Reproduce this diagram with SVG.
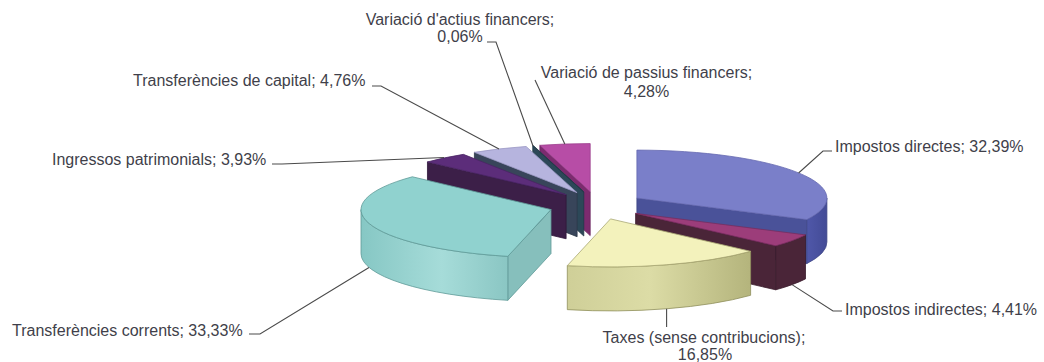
<svg xmlns="http://www.w3.org/2000/svg" width="1044" height="362" viewBox="0 0 1044 362">
<style>
.lbl{font-family:"Liberation Sans",Arial,sans-serif;font-size:16px;fill:#3f3f4a}
.mid{text-anchor:middle}
.lead{fill:none;stroke:#4a4a4a;stroke-width:1.1}
.e{stroke-width:0.8;stroke-linejoin:round}
</style>
<defs>
<linearGradient id="gTeal" x1="361" y1="0" x2="508" y2="0" gradientUnits="userSpaceOnUse">
<stop offset="0" stop-color="#86c7c4"/><stop offset="0.55" stop-color="#a6dcd9"/><stop offset="1" stop-color="#8ac6c3"/>
</linearGradient>
<linearGradient id="gTax" x1="567" y1="0" x2="751" y2="0" gradientUnits="userSpaceOnUse">
<stop offset="0" stop-color="#cfcf98"/><stop offset="0.45" stop-color="#dcdca6"/><stop offset="1" stop-color="#b4b47c"/>
</linearGradient>
<linearGradient id="gBlue" x1="806" y1="0" x2="827" y2="0" gradientUnits="userSpaceOnUse">
<stop offset="0" stop-color="#5058aa"/><stop offset="1" stop-color="#434b96"/>
</linearGradient>
</defs>
<rect width="1044" height="362" fill="#ffffff"/>

<g id="slice-passius">
<path class="e" fill="#7c2b6f" stroke="#6a245f" d="M590.2,191.6 L539.87,145.31 L539.87,189.31 L590.2,235.6 Z"/>
<path class="e" fill="#b74da6" stroke="#9c3f8d" d="M590.2,191.6 L539.87,145.31 A190,48 0 0 1 590.2,143.6 Z"/>
</g>
<g id="slice-actius">
<path class="e" fill="#2c4858" stroke="#223a48" d="M583.8,192 L532.77,145.76 L532.77,189.76 L583.8,236 Z"/>
<path class="e" fill="#3b5a6a" stroke="#223a48" d="M583.8,192 L532.77,145.76 L533.47,145.71 Z"/>
</g>
<g id="slice-capital">
<path class="e" fill="#38455a" stroke="#2c3848" d="M577.1,192.7 L474.4,152.32 L474.4,196.32 L577.1,236.7 Z"/>
<path class="e" fill="#b6b4de" stroke="#9a98c4" d="M577.1,192.7 L474.4,152.32 A190,48 0 0 1 526.07,146.46 Z"/>
</g>
<g id="slice-patrimonials">
<path class="e" fill="#3c1f48" stroke="#2e1638" d="M566.1,194.75 L427.46,161.93 L427.46,205.93 L566.1,238.75 Z"/>
<path class="e" fill="#5c2d7a" stroke="#4a2464" d="M566.1,194.75 L427.46,161.93 A190,48 0 0 1 463.4,154.37 Z"/>
</g>
<g id="slice-directes">
<path class="e" fill="#4a5299" stroke="#3d4585" d="M636.9,198.1 L806.8,219.59 L806.8,263.59 L636.9,242.1 Z"/>
<path class="e" fill="url(#gBlue)" stroke="#3d4585" d="M826.9,198.1 A190,48 0 0 1 806.8,219.59 L806.8,263.59 A190,48 0 0 0 826.9,242.1 Z"/>
<path class="e" fill="#7a7fc9" stroke="#6468b0" d="M636.9,198.1 L636.9,150.1 A190,48 0 0 1 806.8,219.59 Z"/>
</g>
<g id="slice-corrents">
<path class="e" fill="#86bfbc" stroke="#5f9a98" d="M551,209.6 L507.81,256.34 L507.81,300.34 L551,253.6 Z"/>
<path class="e" fill="url(#gTeal)" stroke="#5f9a98" d="M507.81,256.34 A190,48 0 0 1 361,209.6 L361,253.6 A190,48 0 0 0 507.81,300.34 Z"/>
<path class="e" fill="#90d2cf" stroke="#5f9a98" d="M551,209.6 L507.81,256.34 A190,48 0 0 1 412.36,176.78 Z"/>
</g>
<g id="slice-indirectes">
<path class="e" fill="#4a2538" stroke="#3a1c2c" d="M635.6,213.4 L775.72,245.82 L775.72,289.82 L635.6,257.4 Z"/>
<path class="e" fill="#4a2538" stroke="#3a1c2c" d="M805.5,234.89 A190,48 0 0 1 775.72,245.82 L775.72,289.82 A190,48 0 0 0 805.5,278.89 Z"/>
<path class="e" fill="#9c3d7a" stroke="#7a2d5e" d="M635.6,213.4 L805.5,234.89 A190,48 0 0 1 775.72,245.82 Z"/>
</g>
<g id="slice-taxes">
<path class="e" fill="url(#gTax)" stroke="#8f8f5c" d="M750.62,251.32 A190,48 0 0 1 567.31,265.64 L567.31,309.64 A190,48 0 0 0 750.62,295.32 Z"/>
<path class="e" fill="#f3f2bc" stroke="#a9a874" d="M610.5,218.9 L750.62,251.32 A190,48 0 0 1 567.31,265.64 Z"/>
</g>

<g id="connectors">
<polyline class="lead" points="487,42 496,42 533,146"/>
<polyline class="lead" points="535,80 564.8,144"/>
<polyline class="lead" points="372,86 381,86 499,149"/>
<polyline class="lead" points="272,164 282,164 444,157.5"/>
<polyline class="lead" points="249,334 260,334 369,267.5"/>
<polyline class="lead" points="666.6,308.8 666.6,327"/>
<polyline class="lead" points="792,284.6 833,311 842,311"/>
<polyline class="lead" points="798.6,173 823,151 832,151"/>
</g>

<g id="labels">
<g id="label-actius"><text class="lbl mid" x="460" y="25">Variació d'actius financers;</text><text class="lbl mid" x="460" y="42">0,06%</text></g>
<g id="label-passius"><text class="lbl mid" x="646.5" y="78">Variació de passius financers;</text><text class="lbl mid" x="646.5" y="97">4,28%</text></g>
<g id="label-capital"><text class="lbl" x="133" y="86">Transferències de capital; 4,76%</text></g>
<g id="label-patrimonials"><text class="lbl" x="52" y="165">Ingressos patrimonials; 3,93%</text></g>
<g id="label-corrents"><text class="lbl" x="12" y="336">Transferències corrents; 33,33%</text></g>
<g id="label-taxes"><text class="lbl mid" x="704" y="343">Taxes (sense contribucions);</text><text class="lbl mid" x="705" y="360">16,85%</text></g>
<g id="label-indirectes"><text class="lbl" x="845" y="315">Impostos indirectes; 4,41%</text></g>
<g id="label-directes"><text class="lbl" x="835" y="152">Impostos directes; 32,39%</text></g>
</g>
</svg>
